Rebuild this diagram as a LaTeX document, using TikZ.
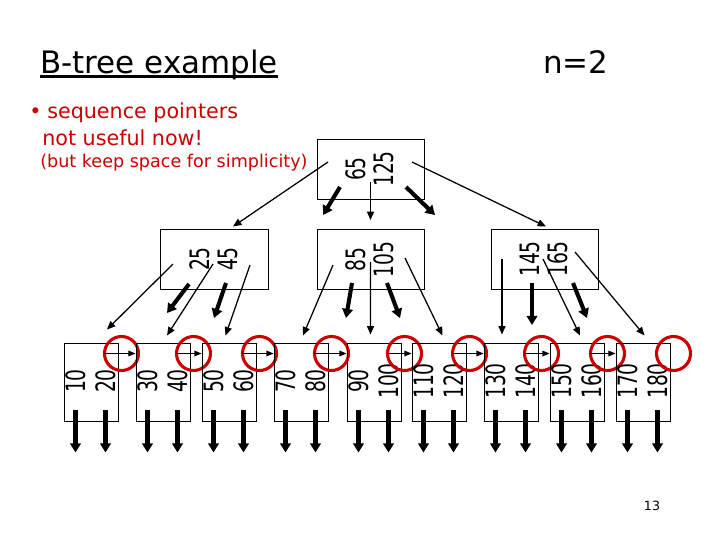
\documentclass[tikz,border=0pt]{standalone}
\usepackage{fontspec}
\setmainfont{DejaVu Sans}
\setsansfont{DejaVu Sans}
\usetikzlibrary{arrows.meta,calc}
\definecolor{alertred}{RGB}{204,0,0}
\newcommand{\keyno}[1]{\scalebox{0.7}[1]{#1}}

\begin{document}
\begin{tikzpicture}[x=0.025cm,y=-0.025cm,
    inbox/.style={draw,line width=0.7pt,inner sep=0pt,minimum width=2.675cm,minimum height=1.5cm},
    leafbox/.style={draw,line width=0.7pt,inner sep=0pt,minimum width=1.35cm,minimum height=1.95cm},
    keytxt/.style={rotate=90,inner sep=0pt,font=\fontsize{19}{19}\selectfont},
    treeptr/.style={line width=0.9pt,-{Triangle[length=6pt,width=5pt]}},
    recptr/.style={line width=2.9pt,-{Triangle[length=6.5pt,width=7.5pt]}},
    seqptr/.style={line width=0.7pt,-{Triangle[length=5pt,width=4pt]}},
    seqmark/.style={draw=alertred,line width=2.2pt},
    note/.style={anchor=base west,inner sep=0pt,text=alertred,font=\fontsize{14.7}{17}\selectfont}]
\useasboundingbox (0,0) rectangle (720,540);

% === Titles ===
\node[anchor=base west,inner sep=0pt,font=\fontsize{22}{26}\selectfont] (title) at (40,73) {B-tree example};
\draw[line width=1.5pt] ($(title.base west)+(0,3.5)$) -- ($(title.base east)+(0,3.5)$);
\node[anchor=base west,inner sep=0pt,font=\fontsize{22}{26}\selectfont] (nval) at (543,73) {n=2};

\node[note] (bul) at (29,118) {•};
\node[note] (n1) at (47,118) {sequence pointers};
\node[note] (n2) at (42,145) {not useful now!};
\node[note,font=\fontsize{12.5}{15}\selectfont] (n3) at (40,167) {(but keep space for simplicity)};

% === Root and second level ===
\foreach \n/\x/\y/\a/\b in {root/370.5/169/65/125, i1/214.5/259/25/45,
    i2/370.5/259.5/85/105, i3/544.5/259/145/165} {
    \node[inbox] (\n) at (\x,\y) {};
    \node[keytxt] (k\a) at (\x-15,\y) {\keyno{\a}};
    \node[keytxt] (k\b) at (\x+13,\y) {\keyno{\b}};
}

% === Leaves ===
\foreach \i/\x/\a/\b in {1/64/10/20, 2/136/30/40, 3/202/50/60, 4/274/70/80,
    5/347/90/100, 6/412/110/120, 7/484/130/140, 8/550/150/160, 9/616/170/180} {
    \node[leafbox] (l\i) at (\x+27,382) {};
    \node[keytxt] (k\a) at (\x+12,381) {\keyno{\a}};
    \node[keytxt] (k\b) at (\x+42,381) {\keyno{\b}};
    \draw[recptr] ($(l\i.south west)+(12,-12)$) -- ++(0,43);
    \draw[recptr] ($(l\i.south west)+(42,-12)$) -- ++(0,43);
    \draw[seqmark] ($(l\i.north east)+(3,11)$) circle[radius=17];
}
\foreach \i/\j in {1/2, 2/3, 3/4, 4/5, 5/6, 6/7, 7/8, 8/9}
    \draw[seqptr] ($(l\i.north east)+(-15,11)$) -- ($(l\j.north west)+(0,11)$);

% root pointers
\draw[treeptr] ($(root.center)+(-42.5,-7)$) -- ($(i1.north)+(18.5,-2)$);
\draw[recptr] ($(root.center)+(-30.5,18)$) -- ++(-17,28);
\draw[treeptr] ($(root.center)+(0,13)$) -- ($(i2.north)+(0,-9)$);
\draw[recptr] ($(root.center)+(35.5,18)$) -- ++(29,28);
\draw[treeptr] ($(root.center)+(41.5,-7)$) -- ($(i3.north)+(1.5,-2)$);

% second level pointers
\draw[treeptr] ($(i1.center)+(-41.5,5)$) -- ($(l1.north)+(16,-13)$);
\draw[recptr] ($(i1.center)+(-25.5,25)$) -- ++(-22,29);
\draw[treeptr] ($(i1.center)+(-1.5,5)$) -- ($(l2.north)+(4,-7)$);
\draw[recptr] ($(i1.center)+(11.5,24)$) -- ++(-12,35);
\draw[treeptr] ($(i1.center)+(35.5,6)$) -- ($(l3.north)+(-3.5,-7)$);

\draw[treeptr] ($(i2.center)+(-37.5,5.5)$) -- ($(l4.north)+(2,-7)$);
\draw[recptr] ($(i2.center)+(-18.5,23.5)$) -- ++(-6,35);
\draw[treeptr] ($(i2.center)+(0,2.5)$) -- ($(l5.north)+(-3.5,-8)$);
\draw[recptr] ($(i2.center)+(16.5,23.5)$) -- ++(13,35);
\draw[treeptr] ($(i2.center)+(34.5,-1.5)$) -- ($(l6.north)+(3.5,-7)$);

\draw[treeptr] ($(i3.center)+(-42.5,0)$) -- ($(l7.north)+(-9,-8)$);
\draw[recptr] ($(i3.center)+(-12.5,24)$) -- ++(0,42);
\draw[treeptr] ($(i3.center)+(-1.5,0)$) -- ($(l8.north)+(3,-7)$);
\draw[recptr] ($(i3.center)+(28.5,24)$) -- ++(14,35);
\draw[treeptr] ($(i3.center)+(30.5,-7)$) -- ($(l9.north)+(1.5,-7)$);

\node[font=\fontsize{9}{10}\selectfont] (pg) at (652,506) {13};
\end{tikzpicture}
\end{document}
